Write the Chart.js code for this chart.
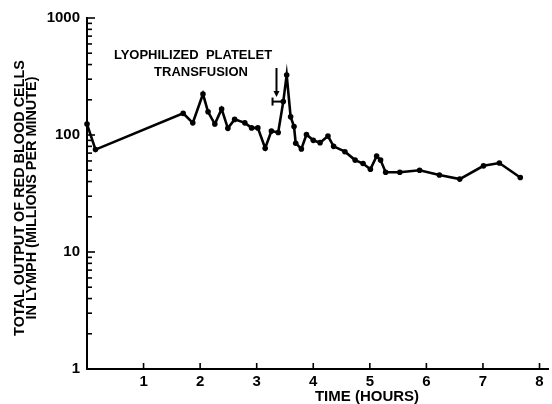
<!DOCTYPE html>
<html>
<head>
<meta charset="utf-8">
<script src="https://cdn.jsdelivr.net/npm/chart.js@4"></script>
<style>
  html, body { margin: 0; padding: 0; background: #fff; }
  #wrap { width: 552px; height: 404px; }
</style>
</head>
<body>
<div id="wrap"><canvas id="myChart" width="552" height="404"></canvas></div>
<script>
// time after start, hours
var hours = [0, 0.15, 1.70, 1.87, 2.05, 2.14, 2.26, 2.38, 2.49, 2.61, 2.79, 2.91, 3.02, 3.15,
  3.26, 3.38, 3.47, 3.53, 3.60, 3.66, 3.69, 3.79, 3.88, 4.00, 4.12, 4.26, 4.36, 4.56, 4.74,
  4.88, 5.01, 5.12, 5.19, 5.28, 5.53, 5.88, 6.23, 6.59, 7.01, 7.29, 7.66]
// red cells in lymph, millions per minute
var rbcOutput = [124, 75, 153, 127, 224, 158, 124, 167, 114, 136, 127, 115, 115, 77,
  108, 105, 193, 326, 143, 118, 85, 76, 101, 90, 86, 98, 80, 72, 61,
  57, 51, 66, 61, 48, 48, 50, 45.5, 42, 54.5, 57.6, 43.3]

var xTicks = [1, 2, 3, 4, 5, 6, 7, 8]
var yDecades = [1, 10, 100, 1000]

var yTitle = ['TOTAL OUTPUT OF RED BLOOD CELLS', 'IN LYMPH (MILLIONS PER MINUTE)']
var xTitle = 'TIME (HOURS)'
var noteLines = ['LYOPHILIZED  PLATELET', 'TRANSFUSION']
var arrowX = 3.35      // where the transfusion arrow points
var bracket = [3.28, 3.465, 193]

var FONT = '"Liberation Sans", Arial, sans-serif'

// inward ticks, axis titles and the transfusion note
var extras = {
  id: 'extras',
  afterDraw(chart) {
    let ctx = chart.ctx
    let xs = chart.scales.x, ys = chart.scales.y
    let area = chart.chartArea
    ctx.save()
    ctx.strokeStyle = '#000'
    ctx.fillStyle = '#000'
    ctx.lineWidth = 1.6

    // x ticks
    xTicks.forEach(v => {
      let px = xs.getPixelForValue(v)
      ctx.beginPath(); ctx.moveTo(px, area.bottom); ctx.lineTo(px, area.bottom - 6); ctx.stroke()
    })
    // y ticks, decades longer
    for (let d = 1; d <= 100; d *= 10) {
      for (let m = 1; m <= 9; m++) {
        let py = ys.getPixelForValue(d * m)
        let len = m == 1 ? 8 : 5
        ctx.beginPath(); ctx.moveTo(area.left, py); ctx.lineTo(area.left + len, py); ctx.stroke()
      }
    }
    let top = ys.getPixelForValue(1000)
    ctx.beginPath(); ctx.moveTo(area.left, top); ctx.lineTo(area.left + 8, top); ctx.stroke()

    // axis titles
    ctx.font = 'bold 15px ' + FONT
    ctx.textAlign = 'center'
    ctx.textBaseline = 'middle'
    ctx.fillText(xTitle, 367, 397)
    ctx.save()
    ctx.font = 'bold 14px ' + FONT
    ctx.translate(20, 198)
    ctx.rotate(-Math.PI / 2)
    ctx.scale(1.03, 1)
    ctx.fillText(yTitle[0], 0, 0)
    ctx.fillText(yTitle[1], 0, 12.5)
    ctx.restore()

    // note
    ctx.font = 'bold 13px ' + FONT
    ctx.fillText(noteLines[0], 193, 55)
    ctx.fillText(noteLines[1], 201, 72)

    // arrow
    let ax = xs.getPixelForValue(arrowX)
    let a0 = 68, a1 = 97
    ctx.lineWidth = 2
    ctx.beginPath(); ctx.moveTo(ax, a0); ctx.lineTo(ax, a1 - 5); ctx.stroke()
    ctx.beginPath(); ctx.moveTo(ax - 3, a1 - 6); ctx.lineTo(ax + 3, a1 - 6); ctx.lineTo(ax, a1); ctx.closePath(); ctx.fill()

    // bracket to the first point after transfusion
    let bx0 = xs.getPixelForValue(bracket[0]), bx1 = xs.getPixelForValue(bracket[1])
    let by = ys.getPixelForValue(bracket[2])
    ctx.beginPath(); ctx.moveTo(bx0, by); ctx.lineTo(bx1, by); ctx.stroke()
    ctx.beginPath(); ctx.moveTo(bx0, by - 4); ctx.lineTo(bx0, by + 4); ctx.stroke()
    ctx.restore()
  }
}

new Chart('myChart', {
  type: 'line',
  data: {
    datasets: [{
      data: hours.map((h, i) => ({ x: h, y: rbcOutput[i] })),
      borderColor: '#000',
      backgroundColor: '#000',
      borderWidth: 2.6,
      pointRadius: 2.8,
      pointBackgroundColor: '#000',
      pointBorderWidth: 0,
      tension: 0,
      clip: false
    }]
  },
  options: {
    responsive: false,
    animation: false,
    layout: { padding: { top: 18, right: 4, left: 0, bottom: 0 } },
    plugins: { legend: { display: false }, tooltip: { enabled: false } },
    scales: {
      x: {
        type: 'linear',
        min: 0,
        max: 8.15,
        afterFit: s => { s.height = 35 },
        afterBuildTicks: s => { s.ticks = xTicks.map(v => ({ value: v })) },
        grid: { display: false, drawTicks: false },
        border: { display: true, color: '#000', width: 2 },
        ticks: { color: '#000', padding: 4, font: { family: FONT, size: 15, weight: 'bold' } }
      },
      y: {
        type: 'logarithmic',
        min: 1,
        max: 1000,
        afterFit: s => { s.width = 87 },
        afterBuildTicks: s => { s.ticks = yDecades.map(v => ({ value: v })) },
        grid: { display: false, drawTicks: false },
        border: { display: true, color: '#000', width: 2 },
        ticks: {
          color: '#000', padding: 7,
          font: { family: FONT, size: 15, weight: 'bold' },
          callback: v => String(v)
        }
      }
    }
  },
  plugins: [extras]
})
</script>
</body>
</html>
